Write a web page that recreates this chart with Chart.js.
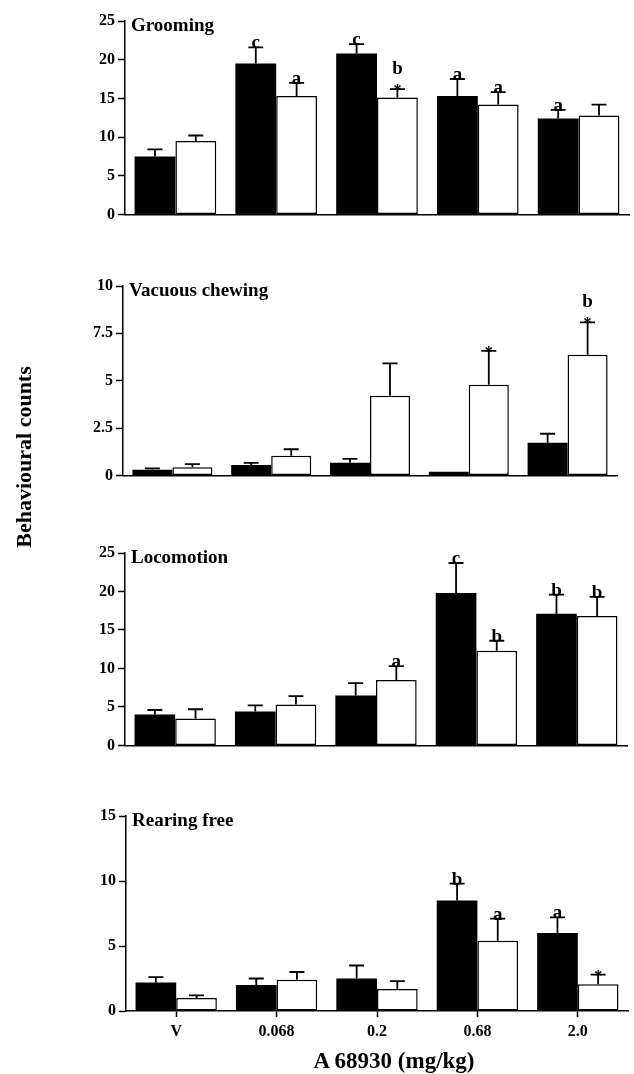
<!DOCTYPE html>
<html>
<head>
<meta charset="utf-8">
<script src="https://cdn.jsdelivr.net/npm/chart.js@4.4.0/dist/chart.umd.min.js"></script>
<style>
    body { margin: 0; background: #fff; }
    #wrap { position: relative; width: 634px; height: 1074px; overflow: hidden; background: #fff; }
    #wrap canvas { position: absolute; left: 0; }
    .ttl { position: absolute; font-family: 'Liberation Serif', 'Times New Roman', serif; font-weight: bold; color: #000; text-align: center; white-space: nowrap; }
</style>
</head>
<body>
<div id="wrap">
    <canvas id="grooming" width="634" height="221" style="top:6px"></canvas>
    <canvas id="chewing" width="634" height="217" style="top:271px"></canvas>
    <canvas id="locomotion" width="634" height="220" style="top:538px"></canvas>
    <canvas id="rearing" width="634" height="250" style="top:801px"></canvas>
    <div class="ttl" style="left:-76px;top:445px;width:200px;height:24px;line-height:24px;font-size:22px;transform:rotate(-90deg)">Behavioural counts</div>
    <div class="ttl" style="left:244px;top:1048px;width:300px;height:26px;line-height:26px;font-size:23px">A 68930 (mg/kg)</div>
</div>
<script>
// 용량 카테고리
const categories = ['V', '0.068', '0.2', '0.68', '2.0'];

// Grooming
const groomingFilled = [7.5, 19.5, 20.8, 15.3, 12.4];
const groomingFilledErr = [0.9, 2.1, 1.2, 2.2, 1.1];
const groomingOpen = [9.5, 15.3, 15.1, 14.2, 12.8];
const groomingOpenErr = [0.7, 1.7, 1.1, 1.6, 1.4];
const groomingFilledMarks = ['', 'c', 'c', 'a', 'a'];
const groomingOpenMarks = ['', 'a', 'b*', 'a', ''];

// Vacuous chewing
const chewingFilled = [0.3, 0.55, 0.67, 0.19, 1.73];
const chewingFilledErr = [0.07, 0.11, 0.2, 0, 0.47];
const chewingOpen = [0.43, 1.04, 4.2, 4.79, 6.37];
const chewingOpenErr = [0.17, 0.34, 1.72, 1.78, 1.71];
const chewingFilledMarks = ['', '', '', '', ''];
const chewingOpenMarks = ['', '', '', '*', 'b*'];

// Locomotion
const locoFilled = [4.0, 4.4, 6.5, 19.8, 17.1];
const locoFilledErr = [0.6, 0.8, 1.6, 3.9, 2.5];
const locoOpen = [3.5, 5.3, 8.5, 12.3, 16.8];
const locoOpenErr = [1.2, 1.1, 1.8, 1.3, 2.5];
const locoFilledMarks = ['', '', '', 'c', 'b'];
const locoOpenMarks = ['', '', 'a', 'b', 'b'];

// Rearing free
const rearFilled = [2.2, 2.0, 2.5, 8.5, 6.0];
const rearFilledErr = [0.4, 0.5, 1.0, 1.3, 1.2];
const rearOpen = [1.0, 2.4, 1.7, 5.4, 2.05];
const rearOpenErr = [0.2, 0.6, 0.6, 1.7, 0.75];
const rearFilledMarks = ['', '', '', 'b', 'a'];
const rearOpenMarks = ['', '', '', 'a', '*'];

const FONT = 'Liberation Serif';

// 에러바, 유의성 문자, 패널 제목을 그리는 플러그인
const marksPlugin = {
    id: 'marks',
    afterDatasetsDraw: function(chart, args, opts) {
        const ctx = chart.ctx;
        const yScale = chart.scales.y;
        ctx.save();
        ctx.strokeStyle = '#000';
        ctx.fillStyle = '#000';
        ctx.lineWidth = 1.8;
        chart.data.datasets.forEach(function(ds, di) {
            chart.getDatasetMeta(di).data.forEach(function(bar, i) {
                const v = ds.data[i];
                const e = opts.errors[di][i];
                const yTop = yScale.getPixelForValue(v);
                const yCap = yScale.getPixelForValue(v + e);
                if (e > 0) {
                    ctx.beginPath();
                    ctx.moveTo(bar.x, yTop);
                    ctx.lineTo(bar.x, yCap);
                    ctx.moveTo(bar.x - 7.5, yCap);
                    ctx.lineTo(bar.x + 7.5, yCap);
                    ctx.stroke();
                }
                const m = opts.marks[di][i];
                if (!m) return;
                ctx.textAlign = 'center';
                ctx.textBaseline = 'alphabetic';
                const letter = m.replace('*', '');
                let base = yCap + 1;
                if (m.indexOf('*') >= 0) {
                    ctx.font = 'bold 16px "' + FONT + '"';
                    ctx.fillText('*', bar.x, yCap + 6);
                    base = yCap - 15; // 별표 위에 문자
                }
                if (letter) {
                    ctx.font = 'bold 19px "' + FONT + '"';
                    ctx.fillText(letter, bar.x, base);
                }
            });
        });
        // 패널 제목
        ctx.font = 'bold 19px "' + FONT + '"';
        ctx.textAlign = 'left';
        ctx.textBaseline = 'middle';
        ctx.fillText(opts.title, chart.chartArea.left + 6, chart.chartArea.top + 5);
        ctx.restore();
    }
};

function makePanel(id, title, yMax, yStep, filled, filledErr, open, openErr, filledMarks, openMarks, axisX, rightPad, bottomH, showX) {
    const ctx = document.getElementById(id).getContext('2d');
    return new Chart(ctx, {
        type: 'bar',
        data: {
            labels: categories,
            datasets: [{
                label: 'filled',
                data: filled,
                backgroundColor: '#000',
                borderColor: '#000',
                borderWidth: 0,
                categoryPercentage: 0.81,
                barPercentage: 1.0
            }, {
                label: 'open',
                data: open,
                backgroundColor: '#fff',
                borderColor: '#000',
                borderWidth: 1.5,
                borderSkipped: false,
                categoryPercentage: 0.81,
                barPercentage: 1.0
            }]
        },
        options: {
            responsive: false,
            animation: false,
            layout: { padding: { top: 15, left: 0, right: rightPad, bottom: 0 } },
            plugins: {
                legend: { display: false },
                tooltip: { enabled: false },
                marks: {
                    title: title,
                    errors: [filledErr, openErr],
                    marks: [filledMarks, openMarks]
                }
            },
            scales: {
                x: {
                    ticks: {
                        display: showX,
                        color: '#000',
                        autoSkip: false,
                        maxRotation: 0,
                        padding: 5,
                        font: { family: FONT, size: 16, weight: 'bold' }
                    },
                    grid: {
                        display: showX,
                        offset: false, // 눈금을 카테고리 중앙에
                        drawOnChartArea: false,
                        drawTicks: true,
                        tickLength: 6,
                        tickColor: '#000',
                        tickWidth: 1.5
                    },
                    border: { display: true, color: '#000', width: 1.5 },
                    afterFit: function(scale) { scale.height = bottomH; }
                },
                y: {
                    min: 0,
                    max: yMax,
                    ticks: {
                        stepSize: yStep,
                        color: '#000',
                        padding: 3,
                        font: { family: FONT, size: 16, weight: 'bold' }
                    },
                    grid: {
                        drawOnChartArea: false,
                        drawTicks: true,
                        tickLength: 7,
                        tickColor: '#000',
                        tickWidth: 1.5
                    },
                    border: { display: true, color: '#000', width: 1.5 },
                    afterFit: function(scale) { scale.width = axisX; }
                }
            }
        },
        plugins: [marksPlugin]
    });
}

document.addEventListener('DOMContentLoaded', function() {
    makePanel('grooming', 'Grooming', 25, 5, groomingFilled, groomingFilledErr, groomingOpen, groomingOpenErr,
        groomingFilledMarks, groomingOpenMarks, 125, 5, 10, false);
    makePanel('chewing', 'Vacuous chewing', 10, 2.5, chewingFilled, chewingFilledErr, chewingOpen, chewingOpenErr,
        chewingFilledMarks, chewingOpenMarks, 123, 17, 10, false);
    makePanel('locomotion', 'Locomotion', 25, 5, locoFilled, locoFilledErr, locoOpen, locoOpenErr,
        locoFilledMarks, locoOpenMarks, 125, 7, 10, false);
    makePanel('rearing', 'Rearing free', 15, 5, rearFilled, rearFilledErr, rearOpen, rearOpenErr,
        rearFilledMarks, rearOpenMarks, 126, 6, 40, true);
});
</script>
</body>
</html>
